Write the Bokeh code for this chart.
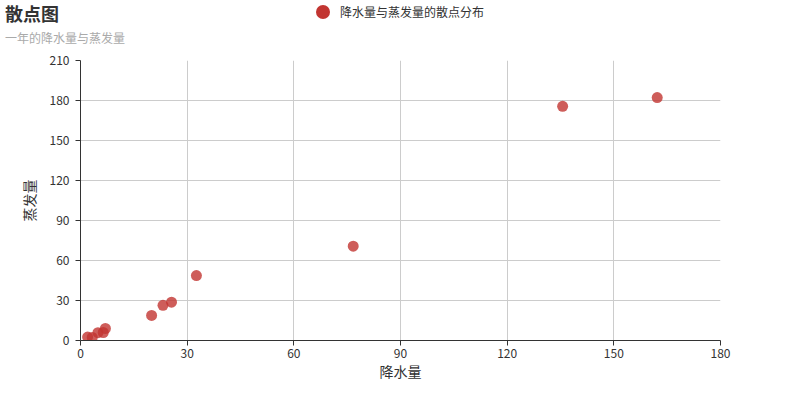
from bokeh.plotting import figure
from bokeh.layouts import column
from bokeh.models import Range1d, FixedTicker, Div
from bokeh.embed import file_html
from bokeh.resources import INLINE

# monthly rainfall vs evaporation
rainfall = [2.0, 4.9, 7.0, 23.2, 25.6, 76.7, 135.6, 162.2, 32.6, 20.0, 6.4, 3.3]
evaporation = [2.6, 5.9, 9.0, 26.4, 28.7, 70.7, 175.6, 182.2, 48.7, 18.8, 6.0, 2.3]
x_ticks = [0, 30, 60, 90, 120, 150, 180]
y_ticks = [0, 30, 60, 90, 120, 150, 180, 210]

title = "散点图"
subtitle = "一年的降水量与蒸发量"
series_name = "降水量与蒸发量的散点分布"

FONT = "Noto Sans CJK SC"
RED = "#c23531"

# header strip: title, subtitle and legend
header_html = f"""
<div style="position:relative;width:800px;height:52px;font-family:'{FONT}';">
  <span style="position:absolute;left:5px;top:4px;font-size:18px;line-height:18px;
               font-weight:bold;color:#333;white-space:nowrap;">{title}</span>
  <span style="position:absolute;left:5px;top:32px;font-size:12px;line-height:12px;
               color:#aaa;white-space:nowrap;">{subtitle}</span>
  <span style="position:absolute;left:316px;top:5px;width:14px;height:14px;
               border-radius:7px;background:{RED};"></span>
  <span style="position:absolute;left:340px;top:6px;font-size:12px;line-height:12px;
               color:#333;white-space:nowrap;">{series_name}</span>
</div>
"""
head = Div(text=header_html, width=800, height=52, margin=0)

p = figure(frame_width=640, frame_height=280, output_backend="svg", toolbar_location=None,
           x_range=Range1d(0, 180), y_range=Range1d(0, 210),
           min_border_left=80, min_border_right=80, min_border_top=8, min_border_bottom=60)
p.outline_line_color = None
p.background_fill_color = "white"

p.scatter(rainfall, evaporation, size=11, marker="circle", fill_color=RED,
          line_color=None, fill_alpha=0.8)

for ax, ticks in ((p.xaxis, x_ticks), (p.yaxis, y_ticks)):
    ax.ticker = FixedTicker(ticks=ticks)
    ax.axis_line_color = "#333333"
    ax.major_tick_line_color = "#333333"
    ax.major_tick_out = 5
    ax.major_tick_in = 0
    ax.minor_tick_line_color = None
    ax.major_label_text_font = FONT
    ax.major_label_text_font_size = "12px"
    ax.major_label_text_color = "#333333"
    ax.axis_label_text_font = FONT
    ax.axis_label_text_font_size = "14px"
    ax.axis_label_text_font_style = "normal"
    ax.axis_label_text_color = "#333333"

p.xaxis.axis_label = "降水量"
p.yaxis.axis_label = "蒸发量"
p.xaxis.major_label_standoff = 3
p.xaxis.axis_label_standoff = 0
p.yaxis.major_label_standoff = 6
p.yaxis.axis_label_standoff = 8

p.grid.grid_line_color = "#cccccc"
p.grid.grid_line_width = 1

layout = column(head, p, spacing=0)
open("out.html", "w").write(file_html(layout, INLINE))
